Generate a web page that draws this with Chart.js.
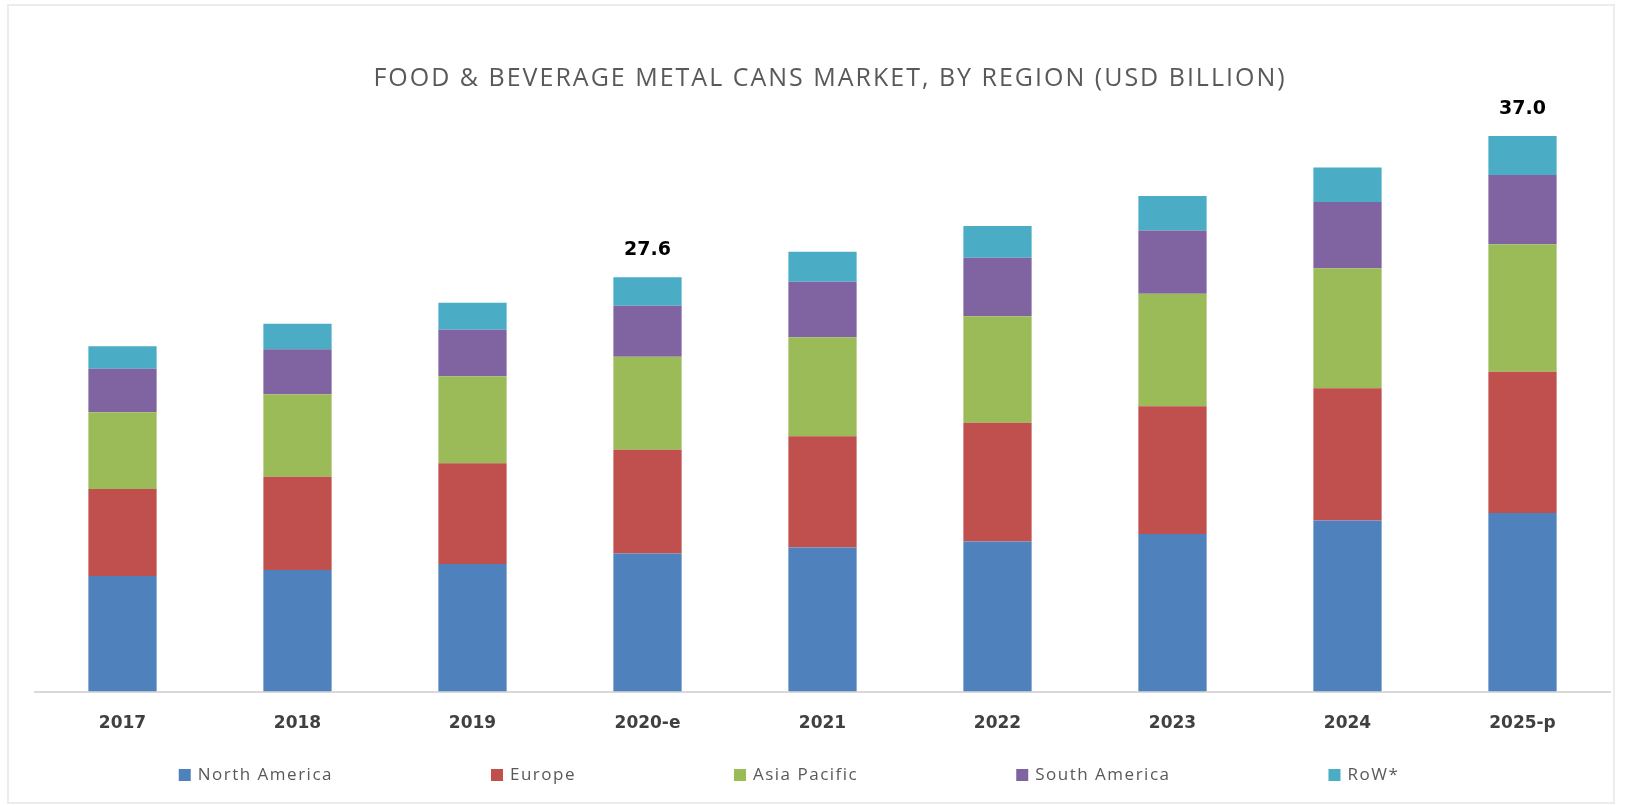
<!DOCTYPE html>
<html>
<head>
    <title>Food & Beverage Metal Cans Market</title>
    <script src="https://cdn.jsdelivr.net/npm/chart.js"></script>
    <style>
        body {
            margin: 0;
            background: #fff;
        }
        .moldura {
            position: absolute;
            left: 7px;
            top: 4px;
            width: 1604px;
            height: 796px;
            border: 2px solid #ececec;
            pointer-events: none;
        }
        #grafico {
            position: absolute;
            left: 0;
            top: 0;
        }
    </style>
</head>
<body>
    <canvas id="grafico" width="1628" height="805"></canvas>
    <div class="moldura"></div>

    <script>
        const titulo = 'FOOD & BEVERAGE METAL CANS MARKET, BY REGION (USD BILLION)';

        // anos (e = estimado, p = projetado)
        const anos = ['2017', '2018', '2019', '2020-e', '2021', '2022', '2023', '2024', '2025-p'];

        // valores por região, USD bilhões
        const northAmerica = [7.7, 8.1, 8.5, 9.2, 9.6, 10.0, 10.5, 11.4, 11.9];
        const europe       = [5.8, 6.2, 6.7, 6.9, 7.4, 7.9, 8.5, 8.8, 9.4];
        const asiaPacific  = [5.1, 5.5, 5.8, 6.2, 6.6, 7.1, 7.5, 8.0, 8.5];
        const southAmerica = [2.9, 3.0, 3.1, 3.4, 3.7, 3.9, 4.2, 4.4, 4.6];
        const row          = [1.5, 1.7, 1.8, 1.9, 2.0, 2.1, 2.3, 2.3, 2.6];

        // só esses anos mostram o total em cima da barra
        const anosComTotal = ['2020-e', '2025-p'];

        const series = [
            { label: 'North America', data: northAmerica, cor: '#4f81bd' },
            { label: 'Europe', data: europe, cor: '#c0504d' },
            { label: 'Asia Pacific', data: asiaPacific, cor: '#9bbb59' },
            { label: 'South America', data: southAmerica, cor: '#8064a2' },
            { label: 'RoW*', data: row, cor: '#4bacc6' }
        ];

        // título desenhado à mão para poder espaçar as letras
        const cabecalho = {
            id: 'cabecalho',
            afterDraw(chart, args, opts) {
                const ctx = chart.ctx;
                ctx.save();
                ctx.font = opts.fonte;
                ctx.letterSpacing = opts.espacoLetra;
                ctx.fillStyle = '#595959';
                ctx.textAlign = 'center';
                ctx.textBaseline = 'middle';
                ctx.fillText(titulo, opts.x, opts.y);
                ctx.restore();
            }
        };

        // total acima da barra (fica fora da área do gráfico)
        const totais = {
            id: 'totais',
            afterDatasetsDraw(chart) {
                const ctx = chart.ctx;
                const y = chart.scales.y;
                const meta = chart.getDatasetMeta(0);
                ctx.save();
                ctx.font = 'bold 19px "DejaVu Sans"';
                ctx.fillStyle = '#000';
                ctx.textAlign = 'center';
                ctx.textBaseline = 'middle';
                anos.forEach((ano, i) => {
                    if (!anosComTotal.includes(ano)) return;
                    let total = 0;
                    chart.data.datasets.forEach(ds => { total += ds.data[i]; });
                    const px = meta.data[i].x;
                    const py = y.getPixelForValue(total) - 27;
                    ctx.fillText(total.toFixed(1), px, py);
                });
                ctx.restore();
            }
        };

        // legenda embaixo, com espaçamento largo entre os itens
        const legenda = {
            id: 'legenda',
            afterDraw(chart, args, opts) {
                const ctx = chart.ctx;
                ctx.save();
                ctx.font = '17px "Open Sans"';
                ctx.letterSpacing = opts.espacoLetra;
                ctx.textBaseline = 'middle';
                const itens = chart.data.datasets.map(ds => ({
                    texto: ds.label,
                    cor: ds.backgroundColor,
                    largura: opts.caixa + opts.respiro + ctx.measureText(ds.label).width
                }));
                let total = itens.reduce((s, it) => s + it.largura, 0) + opts.gap * (itens.length - 1);
                let x = opts.centro - total / 2;
                itens.forEach(it => {
                    ctx.fillStyle = it.cor;
                    ctx.fillRect(x, opts.y - opts.caixa / 2, opts.caixa, opts.caixa);
                    ctx.fillStyle = '#595959';
                    ctx.fillText(it.texto, x + opts.caixa + opts.respiro, opts.y);
                    x += it.largura + opts.gap;
                });
                ctx.restore();
            }
        };

        const ctx = document.getElementById('grafico').getContext('2d');
        const grafico = new Chart(ctx, {
            type: 'bar',
            data: {
                labels: anos,
                datasets: series.map(s => ({
                    label: s.label,
                    data: s.data,
                    backgroundColor: s.cor,
                    borderWidth: 0,
                    barPercentage: 1,
                    categoryPercentage: 0.39
                }))
            },
            options: {
                responsive: false,
                animation: false,
                layout: {
                    padding: { left: 35, right: 18, top: 121, bottom: 49 }
                },
                plugins: {
                    legend: { display: false },
                    tooltip: { enabled: false },
                    cabecalho: {
                        x: 830,
                        y: 79,
                        fonte: '25px "Open Sans"',
                        espacoLetra: '2px'
                    },
                    legenda: {
                        y: 775,
                        centro: 789,
                        gap: 158,
                        caixa: 12,
                        respiro: 7,
                        espacoLetra: '1.5px'
                    }
                },
                scales: {
                    x: {
                        stacked: true,
                        grid: { display: false, drawTicks: false },
                        border: { display: true, color: '#d9d9d9', width: 2 },
                        ticks: {
                            color: '#404040',
                            padding: 22,
                            font: { family: '"DejaVu Sans"', size: 17, weight: 'bold' }
                        }
                    },
                    y: {
                        stacked: true,
                        display: false,
                        min: 0,
                        max: 38
                    }
                }
            },
            plugins: [cabecalho, totais, legenda]
        });
    </script>
</body>
</html>
